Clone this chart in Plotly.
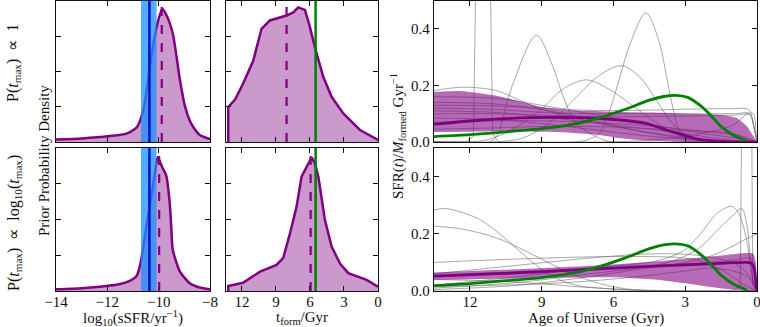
import plotly.graph_objects as go

# ---------------- data: sSFR posteriors (left column) ----------------
ssfr_top_x = [-14, -13, -12.3, -11.6, -11.2, -10.85, -10.6, -10.4, -10.35, -10.2, -10.05, -9.86, -9.69, -9.45, -9.3, -9.17, -8.97, -8.8, -8.66, -8.4, -8.0]
ssfr_top_y = [0.07, 0.1, 0.14, 0.19, 0.25, 0.42, 0.9, 1.8, 2.1, 2.8, 3.35, 3.77, 3.58, 3.07, 2.4, 1.75, 1.0, 0.62, 0.43, 0.2, 0.08]
ssfr_bot_x = [-14, -13, -12.3, -11.6, -11.2, -10.86, -10.7, -10.5, -10.3, -10.15, -10.04, -9.85, -9.71, -9.58, -9.51, -9.45, -9.17, -8.79, -8.4, -8.0]
ssfr_bot_y = [0.05, 0.08, 0.12, 0.18, 0.26, 0.42, 0.8, 1.7, 2.6, 3.3, 3.74, 3.45, 3.24, 2.55, 1.8, 1.15, 0.54, 0.22, 0.1, 0.05]
ssfr_median = [-9.88, -9.98]
ssfr_true = -10.36
ssfr_true_band = [-10.69, -10.08]

# ---------------- data: t_form posteriors (middle column) ----------------
tform_top_x = [13.2, 13.2, 12.6, 11.9, 11.0, 10.27, 9.53, 8.06, 7.47, 7.03, 6.44, 6.0, 5.56, 4.82, 4.09, 3.06, 1.59, 0.0]
tform_top_y = [0, 0.99, 1.2, 1.65, 2.3, 3.2, 3.44, 3.58, 3.67, 3.81, 3.74, 3.25, 2.68, 1.84, 1.28, 0.81, 0.34, 0.06]
tform_bot_x = [13.2, 13.2, 11.9, 10.4, 8.94, 8.35, 7.76, 7.18, 6.74, 6.29, 5.85, 5.56, 5.26, 4.68, 4.09, 3.35, 2.62, 1.0, 0.0]
tform_bot_y = [0, 0.14, 0.23, 0.54, 0.73, 0.93, 1.61, 2.36, 3.2, 3.48, 3.74, 3.57, 3.2, 1.99, 1.24, 0.77, 0.5, 0.31, 0.12]
tform_median = [8.06, 5.94]
tform_true = 5.5

# ---------------- data: star-formation histories (right column) ----------------
true_age = [13.5, 12, 10.5, 9, 7.5, 6.5, 5.5, 4.5, 3.9, 3.4, 2.9, 2.4, 2.0, 1.5, 1.0, 0.7, 0.43]
true_sfr = [0.019, 0.026, 0.036, 0.047, 0.066, 0.088, 0.116, 0.148, 0.161, 0.165, 0.158, 0.131, 0.1, 0.055, 0.025, 0.013, 0.004]

top_band_age = [13.5, 12.3, 10.9, 10.05, 9.1, 7.8, 6.6, 5.6, 4.5, 3.5, 2.5, 1.4, 0.85, 0.43, 0.15, 0]
top_band_hi = [0.177, 0.18, 0.164, 0.147, 0.126, 0.112, 0.109, 0.106, 0.104, 0.102, 0.099, 0.095, 0.085, 0.056, 0.021, 0.0]
top_band_lo = [0.035, 0.036, 0.038, 0.038, 0.036, 0.033, 0.025, 0.012, 0.004, 0.001, 0, 0, 0, 0, 0, 0]
top_med_age = [13.5, 11.6, 9.5, 7.4, 6.57, 5.59, 4.6, 3.78, 3.08, 2.38, 1.69, 1.0, 0]
top_med_sfr = [0.063, 0.077, 0.086, 0.086, 0.083, 0.077, 0.065, 0.042, 0.025, 0.009, 0.003, 0.0, 0.0]

bot_band_age = [13.5, 12, 10, 8, 6, 4, 3, 2, 1.2, 0.64, 0.3, 0.15, 0.05, 0]
bot_band_hi = [0.065, 0.07, 0.076, 0.084, 0.093, 0.105, 0.113, 0.12, 0.127, 0.132, 0.133, 0.13, 0.1, 0.0]
bot_band_lo = [0.039, 0.041, 0.044, 0.047, 0.048, 0.038, 0.027, 0.015, 0.006, 0.002, 0.0, 0.0, 0.0, 0.0]
bot_med_age = [13.5, 12, 10, 8, 6, 4, 2, 1, 0.5, 0.25, 0.12, 0.05, 0]
bot_med_sfr = [0.052, 0.057, 0.064, 0.072, 0.08, 0.088, 0.095, 0.099, 0.1, 0.098, 0.08, 0.03, 0.0]

# individual posterior samples: (ages, sfr, sharp?)
top_samples = [
    ([13.5, 12.2, 11.85, 11.75, 11.15, 11.05, 10.8, 0], [0, 0, 0.02, 0.6, 0.6, 0.03, 0, 0], True),
    ([13.5, 11.2, 10.9, 10.2, 9.22, 8.52, 8.1, 7.54, 6.7, 6.0, 0], [0, 0, 0.018, 0.206, 0.378, 0.264, 0.16, 0.065, 0.018, 0, 0], False),
    ([13.5, 11.5, 10.9, 10.05, 9.08, 8.1, 7.13, 6.15, 4.9, 3.92, 3.08, 2.2, 0], [0, 0.004, 0.018, 0.053, 0.111, 0.188, 0.22, 0.185, 0.11, 0.053, 0.018, 0.002, 0], False),
    ([13.5, 10.5, 9.77, 9.08, 8.38, 7.69, 6.6, 5.66, 4.9, 4.2, 3.64, 3.08, 2.52, 2.0, 0], [0, 0.003, 0.015, 0.044, 0.09, 0.147, 0.235, 0.27, 0.23, 0.147, 0.077, 0.03, 0.007, 0, 0], False),
    ([13.5, 7.6, 7.0, 6.57, 6.15, 5.73, 5.31, 4.64, 4.06, 3.78, 3.5, 3.22, 2.94, 2.4, 0], [0, 0, 0.01, 0.032, 0.114, 0.23, 0.346, 0.457, 0.346, 0.23, 0.114, 0.03, 0.005, 0, 0], False),
    ([13.5, 12.29, 10.9, 10.05, 9.22, 7.82, 6.57, 5.0, 3.5, 2.0, 0.8, 0], [0.182, 0.194, 0.182, 0.153, 0.123, 0.088, 0.065, 0.04, 0.022, 0.008, 0.001, 0], False),
    ([13.5, 11, 9, 7, 5, 3, 1, 0.35, 0.15, 0], [0.13, 0.128, 0.12, 0.112, 0.112, 0.116, 0.118, 0.115, 0.06, 0], False),
    ([13.5, 11, 9, 7, 5, 3, 1, 0.3, 0.12, 0], [0.12, 0.115, 0.105, 0.1, 0.1, 0.1, 0.1, 0.1, 0.05, 0], False),
    ([13.5, 11, 9, 7, 5, 3, 1.5, 0], [0.11, 0.105, 0.09, 0.07, 0.05, 0.03, 0.01, 0], False),
    ([13.5, 11, 9, 7, 5, 3, 1, 0.3, 0.1, 0], [0.1, 0.1, 0.095, 0.09, 0.09, 0.092, 0.095, 0.095, 0.04, 0], False),
    ([13.5, 11, 9, 7, 5, 3, 1.5, 0], [0.085, 0.08, 0.065, 0.045, 0.025, 0.01, 0.002, 0], False),
    ([13.5, 11, 9, 7, 5, 3, 1, 0], [0.07, 0.075, 0.075, 0.07, 0.06, 0.045, 0.025, 0], False),
    ([13.5, 11, 9, 7, 5, 3, 1, 0], [0.045, 0.05, 0.055, 0.055, 0.05, 0.04, 0.03, 0], False),
    ([13.5, 11, 9, 7, 5, 3, 1.5, 0], [0.14, 0.135, 0.115, 0.08, 0.04, 0.012, 0.002, 0], False),
    ([13.5, 11, 9, 7, 5, 3, 1, 0], [0.16, 0.155, 0.13, 0.1, 0.07, 0.04, 0.015, 0], False),
    ([13.5, 6, 3, 1, 0.4, 0.15, 0.05, 0], [0.0, 0.0, 0.02, 0.06, 0.1, 0.1, 0.04, 0], False),
]

bot_samples = [
    ([13.5, 12.98, 11.59, 10.47, 9.5, 8.52, 7.54, 6.57, 5.0, 3, 0], [0.284, 0.288, 0.25, 0.18, 0.109, 0.05, 0.02, 0.01, 0.002, 0, 0], False),
    ([13.5, 12.29, 10.9, 9.92, 8.94, 7.82, 6.57, 5.5, 4, 0], [0.227, 0.216, 0.186, 0.15, 0.109, 0.062, 0.026, 0.008, 0, 0], False),
    ([13.5, 10, 6.5, 4.2, 3, 2, 1.2, 0.6, 0], [0.1, 0.112, 0.12, 0.12, 0.115, 0.095, 0.06, 0.025, 0], False),
    ([13.5, 10, 7, 5, 4.2, 3.08, 2.38, 1.69, 1.06, 0.75, 0.43, 0.22, 0.08, 0], [0.02, 0.05, 0.08, 0.095, 0.105, 0.14, 0.198, 0.27, 0.296, 0.27, 0.176, 0.058, 0.01, 0], False),
    ([13.5, 10, 7, 5, 3.5, 2.38, 1.69, 1.13, 0.64, 0.43, 0.29, 0.15, 0], [0.01, 0.03, 0.06, 0.08, 0.105, 0.152, 0.21, 0.255, 0.288, 0.234, 0.128, 0.03, 0], False),
    ([13.5, 10, 7, 5, 3, 2.1, 1.13, 0.5, 0], [0.005, 0.02, 0.05, 0.075, 0.1, 0.117, 0.152, 0.18, 0.2], False),
    ([13.5, 1.0, 0.7, 0.64, 0.22, 0.18, 0], [0, 0, 0.02, 0.6, 0.6, 0.02, 0], True),
    ([13.5, 10, 7, 5, 3.5, 2.5, 1.5, 0.8, 0.3, 0], [0.06, 0.09, 0.115, 0.128, 0.13, 0.125, 0.11, 0.09, 0.05, 0], False),
    ([13.5, 11, 9, 7, 5, 3, 0], [0.04, 0.035, 0.025, 0.012, 0.004, 0, 0], False),
    ([13.5, 11, 9, 7, 5, 3, 2, 1, 0.4, 0], [0.015, 0.02, 0.025, 0.035, 0.05, 0.07, 0.08, 0.07, 0.05, 0], False),
    ([13.5, 10, 7, 4, 2, 0.8, 0.3, 0.12, 0], [0.05, 0.06, 0.075, 0.09, 0.1, 0.11, 0.115, 0.1, 0], False),
]

# ---------------- styling ----------------
PURPLE = "#800080"
FILL = "rgba(128,0,128,0.4)"
BAND = "rgba(128,0,128,0.58)"
GREEN = "#008000"
GREY = "rgba(110,110,110,0.6)"
FONT = "Liberation Serif"

fig = go.Figure()

# left column
for i, (xs, ys, med) in enumerate([(ssfr_top_x, ssfr_top_y, ssfr_median[0]), (ssfr_bot_x, ssfr_bot_y, ssfr_median[1])]):
    ax = "" if i == 0 else "4"
    fig.add_trace(go.Scatter(x=xs, y=ys, mode="lines", line=dict(color=PURPLE, width=2.5, shape="spline", smoothing=0.6),
                             fill="tozeroy", fillcolor=FILL, xaxis="x" + ax, yaxis="y" + ax, showlegend=False))
    fig.add_shape(type="rect", xref="x" + ax, yref=("y" + ax) + " domain", x0=ssfr_true_band[0], x1=ssfr_true_band[1], y0=0, y1=1,
                  fillcolor="rgba(30,144,255,0.75)", line_width=0, layer="above")
    fig.add_shape(type="line", xref="x" + ax, yref=("y" + ax) + " domain", x0=ssfr_true, x1=ssfr_true, y0=0, y1=1,
                  line=dict(color="#0010d0", width=2.5), layer="above")
    fig.add_shape(type="line", xref="x" + ax, yref=("y" + ax) + " domain", x0=med, x1=med, y0=0, y1=1,
                  line=dict(color=PURPLE, width=2.2, dash="dash"), layer="above")

# middle column
for i, (xs, ys, med) in enumerate([(tform_top_x, tform_top_y, tform_median[0]), (tform_bot_x, tform_bot_y, tform_median[1])]):
    ax = "2" if i == 0 else "5"
    fig.add_trace(go.Scatter(x=xs, y=ys, mode="lines", line=dict(color=PURPLE, width=2.5),
                             fill="tozeroy", fillcolor=FILL, xaxis="x" + ax, yaxis="y" + ax, showlegend=False))
    fig.add_shape(type="line", xref="x" + ax, yref=("y" + ax) + " domain", x0=med, x1=med, y0=0, y1=1,
                  line=dict(color=PURPLE, width=2.2, dash="dash"), layer="above")
    fig.add_shape(type="line", xref="x" + ax, yref=("y" + ax) + " domain", x0=tform_true, x1=tform_true, y0=0, y1=1,
                  line=dict(color=GREEN, width=2.5), layer="above")

# right column
for ax, bage, bhi, blo, mage, msfr, samples in [
    ("3", top_band_age, top_band_hi, top_band_lo, top_med_age, top_med_sfr, top_samples),
    ("6", bot_band_age, bot_band_hi, bot_band_lo, bot_med_age, bot_med_sfr, bot_samples),
]:
    for ages, sfr, sharp in samples:
        fig.add_trace(go.Scatter(x=ages, y=sfr, mode="lines",
                                 line=dict(color=GREY, width=1, shape="linear" if sharp else "spline", smoothing=0.9),
                                 xaxis="x" + ax, yaxis="y" + ax, showlegend=False, hoverinfo="skip"))
    fig.add_trace(go.Scatter(x=bage + bage[::-1], y=bhi + blo[::-1], mode="lines", line=dict(width=0, shape="spline", smoothing=0.6),
                             fill="toself", fillcolor=BAND, xaxis="x" + ax, yaxis="y" + ax, showlegend=False))
    fig.add_trace(go.Scatter(x=mage, y=msfr, mode="lines", line=dict(color=PURPLE, width=2.8, shape="spline", smoothing=0.6),
                             xaxis="x" + ax, yaxis="y" + ax, showlegend=False))
    fig.add_trace(go.Scatter(x=true_age, y=true_sfr, mode="lines", line=dict(color=GREEN, width=2.8, shape="spline", smoothing=0.6),
                             xaxis="x" + ax, yaxis="y" + ax, showlegend=False))

W, H = 760, 327
def dx(a, b):
    return [a / W, b / W]
def dy(top, bot):
    return [(H - bot) / H, (H - top) / H]

common = dict(showline=True, linecolor="#111", linewidth=1.4, mirror="allticks", ticks="inside", ticklen=5,
              tickwidth=1.2, tickcolor="#111", showgrid=False, zeroline=False, automargin=False,
              ticklabeloverflow="allow", tickfont=dict(family=FONT, size=15, color="#111"))
xcommon = dict(common, ticklabelstandoff=-3)

XL, XM, XR = dx(56, 210), dx(226, 378), dx(434, 757)
YT, YB = dy(0.7, 142), dy(148, 291)

lay = {}
lay["xaxis"] = dict(xcommon, domain=XL, range=[-14, -8], tickvals=[-14, -12, -10, -8], showticklabels=False, anchor="y")
lay["xaxis4"] = dict(xcommon, domain=XL, range=[-14, -8], tickvals=[-14, -12, -10, -8], anchor="y4")
lay["xaxis2"] = dict(xcommon, domain=XM, range=[13.4, 0], tickvals=[12, 9, 6, 3, 0], showticklabels=False, anchor="y2")
lay["xaxis5"] = dict(xcommon, domain=XM, range=[13.4, 0], tickvals=[12, 9, 6, 3, 0], anchor="y5")
lay["xaxis3"] = dict(xcommon, domain=XR, range=[13.5, 0], tickvals=[12, 9, 6, 3, 0], showticklabels=False, anchor="y3")
lay["xaxis6"] = dict(xcommon, domain=XR, range=[13.5, 0], tickvals=[12, 9, 6, 3, 0], anchor="y6")
for k, d, xa in [("yaxis", YT, "x"), ("yaxis4", YB, "x4"), ("yaxis2", YT, "x2"), ("yaxis5", YB, "x5")]:
    lay[k] = dict(common, domain=d, range=[0, 4], tickvals=[1, 2, 3], showticklabels=False, anchor=xa)
for k, d, xa in [("yaxis3", YT, "x3"), ("yaxis6", YB, "x6")]:
    lay[k] = dict(common, domain=d, range=[0, 0.5], tickvals=[0, 0.2, 0.4], ticktext=["0.0", "0.2", "0.4"], anchor=xa)

def ann(text, x, y, angle=0, size=15):
    return dict(text=text, x=x / W, y=(H - y) / H, xref="paper", yref="paper", showarrow=False,
                textangle=angle, xanchor="center", yanchor="middle",
                font=dict(family=FONT, size=size, color="#111"))

annotations = [
    ann("log<sub>10</sub>(sSFR/yr<sup>−1</sup>)", 133, 318),
    ann("t<sub>form</sub>/Gyr", 302, 318),
    ann("Age of Universe (Gyr)", 596, 318),
    ann("P(<i>t</i><sub>max</sub>)  ∝  1", 14, 63, -90, 16),
    ann("P(<i>t</i><sub>max</sub>)  ∝  log<sub>10</sub>(<i>t</i><sub>max</sub>)", 14, 223, -90, 16),
    ann("Prior Probability Density", 44, 161, -90, 15),
    ann("SFR(<i>t</i>)/<i>M</i><sub>formed</sub> Gyr<sup>−1</sup>", 398, 136, -90, 15),
]

fig.update_layout(width=W, height=H, margin=dict(l=0, r=0, t=0, b=0), paper_bgcolor="white", plot_bgcolor="white",
                  annotations=annotations, **lay)
fig.write_html("out.html", config={"displayModeBar": False},
               post_script="document.body.style.margin='0';document.body.style.overflow='hidden';")
